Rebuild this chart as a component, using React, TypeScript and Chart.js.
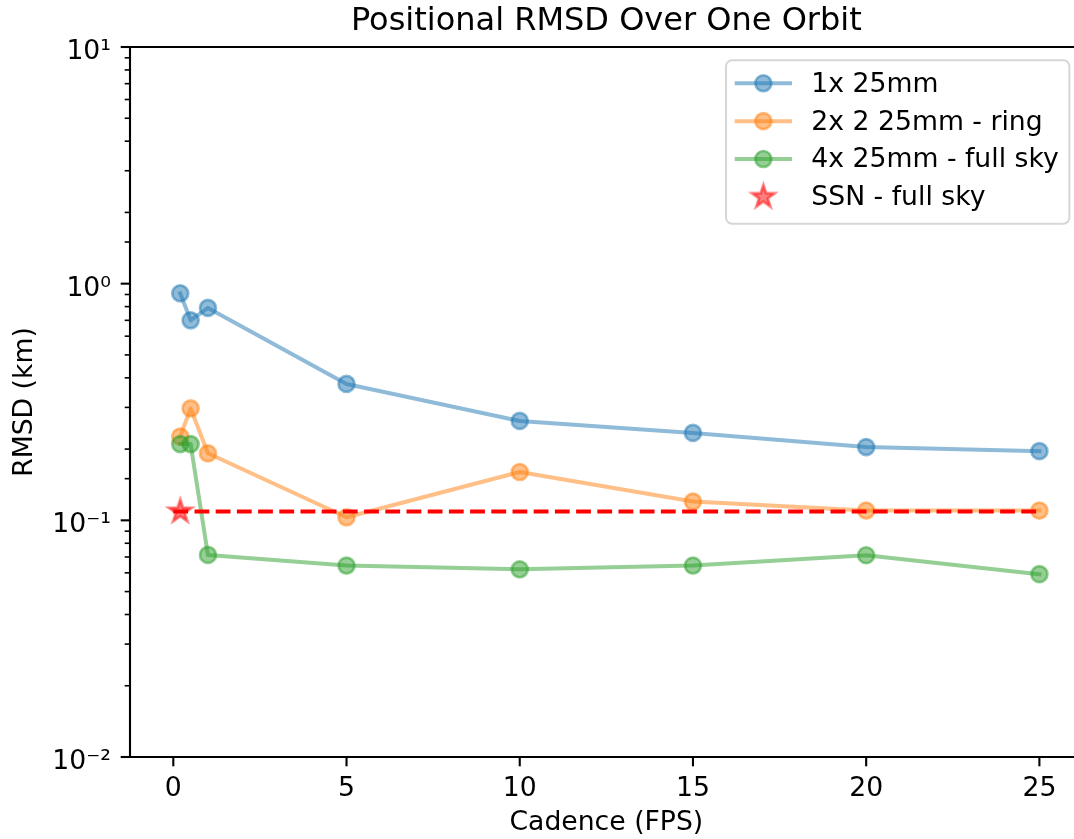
import React, { useEffect, useRef } from 'react';
import { Chart, registerables } from 'chart.js';

Chart.register(...registerables);

// ---------- data ----------
const cadence = [0.2, 0.5, 1, 5, 10, 15, 20, 25];
const rmsd1x25mm = [0.91, 0.70, 0.79, 0.377, 0.263, 0.234, 0.204, 0.196];
const rmsd2x225mmRing = [0.226, 0.297, 0.192, 0.103, 0.160, 0.120, 0.110, 0.110];
const rmsd4x25mmFullSky = [0.210, 0.210, 0.0714, 0.0644, 0.0621, 0.0644, 0.0712, 0.0592];
const ssnCadence = [0.2];
const ssnRmsd = [0.109];
const ssnLineCadence = [0, 25];
const ssnLineRmsd = [0.109, 0.109];

const seriesLabels = ['1x 25mm', '2x 2 25mm - ring', '4x 25mm - full sky', 'SSN - full sky'];
const xTickValues = [0, 5, 10, 15, 20, 25];
const yMajorTickValues = [0.01, 0.1, 1, 10];
const yMajorTickLabels = ['10⁻²', '10⁻¹', '10⁰', '10¹'];

const chartTitle = 'Positional RMSD Over One Orbit';
const xTitle = 'Cadence (FPS)';
const yTitle = 'RMSD (km)';

// full x-axis range of the figure, and the part visible inside the picture
const X_AXIS_MIN = -1.25;
const X_AXIS_MAX = 26.25;
const X_VISIBLE_MAX = 25.97;

// ---------- styles ----------
const FS = 26.67;
const FONT = "'DejaVu Sans', sans-serif";
const BLUE = 'rgba(31,119,180,0.5)';
const ORANGE = 'rgba(255,127,14,0.5)';
const GREEN = 'rgba(44,160,44,0.5)';
const STAR_RED = 'rgba(255,0,0,0.5)';

function makeStar(R: number, fill: string, stroke: string, lw: number) {
  const size = Math.ceil(2 * R + lw + 6);
  const c = document.createElement('canvas');
  c.width = size;
  c.height = size;
  const g = c.getContext('2d')!;
  const cx = size / 2;
  const cy = size / 2;
  g.beginPath();
  for (let k = 0; k < 10; k++) {
    const r = k % 2 === 0 ? R : R * 0.381966;
    const a = -Math.PI / 2 + (k * Math.PI) / 5;
    const px = cx + r * Math.cos(a);
    const py = cy + r * Math.sin(a);
    if (k === 0) g.moveTo(px, py);
    else g.lineTo(px, py);
  }
  g.closePath();
  g.fillStyle = fill;
  g.fill();
  g.lineWidth = lw;
  g.strokeStyle = stroke;
  g.stroke();
  return c;
}

// chart title and x-axis title, centred over the full axes range
const titlePlugin = {
  id: 'mplTitles',
  afterDraw(chart: any) {
    const { ctx, height } = chart;
    const xs = chart.scales.x;
    const cx = xs.getPixelForValue((X_AXIS_MIN + X_AXIS_MAX) / 2);
    ctx.save();
    ctx.fillStyle = '#000';
    ctx.textAlign = 'center';
    ctx.textBaseline = 'middle';
    ctx.font = `32px ${FONT}`;
    ctx.fillText(chartTitle, cx, 21.2);
    ctx.font = `${FS}px ${FONT}`;
    ctx.fillText(xTitle, cx, height - 0.6 * FS);
    ctx.restore();
  },
};

const framePlugin = {
  id: 'mplFrame',
  afterDatasetsDraw(chart: any) {
    const { ctx, chartArea, width } = chart;
    const { left, top, bottom } = chartArea;
    const xs = chart.scales.x;
    const ys = chart.scales.y;
    const axRight = Math.max(xs.getPixelForValue(X_AXIS_MAX), width + 2);
    ctx.save();
    ctx.strokeStyle = '#000';
    ctx.lineWidth = 2.1;
    ctx.lineCap = 'butt';
    ctx.beginPath();
    ctx.moveTo(axRight, top);
    ctx.lineTo(left, top);
    ctx.lineTo(left, bottom);
    ctx.lineTo(axRight, bottom);
    ctx.stroke();
    xs.ticks.forEach((t: any) => {
      const px = xs.getPixelForValue(t.value);
      ctx.beginPath();
      ctx.moveTo(px, bottom);
      ctx.lineTo(px, bottom + 9.3);
      ctx.stroke();
    });
    ys.ticks.forEach((t: any) => {
      const v = t.value;
      if (v < ys.min * 0.999 || v > ys.max * 1.001) return;
      const e = Math.log10(v);
      const major = Math.abs(e - Math.round(e)) < 1e-6;
      const py = ys.getPixelForValue(v);
      ctx.lineWidth = major ? 2.1 : 1.6;
      ctx.beginPath();
      ctx.moveTo(left, py);
      ctx.lineTo(left - (major ? 9.3 : 5.3), py);
      ctx.stroke();
    });
    ctx.restore();
  },
};

const legendPlugin = {
  id: 'mplLegend',
  afterDraw(chart: any) {
    const { ctx, chartArea } = chart;
    const xs = chart.scales.x;
    const items = chart.data.datasets.filter((d: any) => d.inLegend);
    ctx.save();
    ctx.font = `${FS}px ${FONT}`;
    let maxW = 0;
    items.forEach((d: any) => {
      maxW = Math.max(maxW, ctx.measureText(d.label).width);
    });
    const pad = 0.4 * FS;
    const handleLen = 2 * FS;
    const textPad = 0.8 * FS;
    const rowH = 0.92 * FS;
    const spacing = 0.5 * FS;
    const boxW = pad + handleLen + textPad + maxW + pad;
    const boxH = pad + items.length * rowH + (items.length - 1) * spacing + pad + 4;
    const right = xs.getPixelForValue(X_AXIS_MAX) - 0.5 * FS;
    const top = chartArea.top + 0.5 * FS;
    const left = right - boxW;
    const r = 6;
    ctx.beginPath();
    ctx.moveTo(left + r, top);
    ctx.lineTo(left + boxW - r, top);
    ctx.arcTo(left + boxW, top, left + boxW, top + r, r);
    ctx.lineTo(left + boxW, top + boxH - r);
    ctx.arcTo(left + boxW, top + boxH, left + boxW - r, top + boxH, r);
    ctx.lineTo(left + r, top + boxH);
    ctx.arcTo(left, top + boxH, left, top + boxH - r, r);
    ctx.lineTo(left, top + r);
    ctx.arcTo(left, top, left + r, top, r);
    ctx.closePath();
    ctx.fillStyle = 'rgba(255,255,255,0.8)';
    ctx.fill();
    ctx.lineWidth = 2;
    ctx.strokeStyle = 'rgba(204,204,204,0.8)';
    ctx.stroke();

    items.forEach((d: any, i: number) => {
      const cy = top + pad + rowH / 2 + i * (rowH + spacing);
      const hx0 = left + pad;
      const hx1 = hx0 + handleLen;
      const hc = (hx0 + hx1) / 2;
      if (d.showLine !== false) {
        ctx.beginPath();
        ctx.moveTo(hx0, cy);
        ctx.lineTo(hx1, cy);
        ctx.lineWidth = d.borderWidth;
        ctx.strokeStyle = d.borderColor;
        ctx.lineCap = 'square';
        ctx.stroke();
      }
      if (typeof d.pointStyle === 'object' && d.pointStyle) {
        const img = d.pointStyle;
        ctx.drawImage(img, hc - img.width / 2, cy - img.height / 2);
      } else {
        ctx.beginPath();
        ctx.arc(hc, cy, d.pointRadius, 0, Math.PI * 2);
        ctx.fillStyle = d.pointBackgroundColor;
        ctx.fill();
        ctx.lineWidth = d.pointBorderWidth;
        ctx.strokeStyle = d.pointBorderColor;
        ctx.stroke();
      }
      ctx.fillStyle = '#000';
      ctx.textAlign = 'left';
      ctx.textBaseline = 'middle';
      ctx.fillText(d.label, hx1 + textPad, cy + 1.5);
    });
    ctx.restore();
  },
};

function lineSeries(label: string, ys: number[], color: string, order: number) {
  return {
    label,
    data: cadence.map((x, i) => ({ x, y: ys[i] })),
    borderColor: color,
    backgroundColor: color,
    pointBackgroundColor: color,
    pointBorderColor: color,
    pointRadius: 8,
    pointHoverRadius: 8,
    pointBorderWidth: 2.7,
    borderWidth: 4,
    borderJoinStyle: 'round',
    borderCapStyle: 'square',
    tension: 0,
    showLine: true,
    order,
    inLegend: true,
  };
}

export default function App() {
  const ref = useRef<HTMLCanvasElement>(null);

  useEffect(() => {
    const canvas = ref.current!;
    Chart.defaults.font.family = FONT;
    Chart.defaults.color = '#000';
    const star = makeStar(12, STAR_RED, STAR_RED, 2.7);

    const tickFont = { family: FONT, size: FS };

    const chart = new Chart(canvas, {
      type: 'line',
      data: {
        datasets: [
          lineSeries(seriesLabels[0], rmsd1x25mm, BLUE, 5),
          lineSeries(seriesLabels[1], rmsd2x225mmRing, ORANGE, 4),
          lineSeries(seriesLabels[2], rmsd4x25mmFullSky, GREEN, 3),
          {
            label: seriesLabels[3],
            data: ssnCadence.map((x, i) => ({ x, y: ssnRmsd[i] })),
            showLine: false,
            pointStyle: star,
            pointRadius: 12,
            borderColor: STAR_RED,
            backgroundColor: STAR_RED,
            order: 2,
            inLegend: true,
          } as any,
          {
            label: '',
            data: ssnLineCadence.map((x, i) => ({ x, y: ssnLineRmsd[i] })),
            borderColor: '#ff0000',
            borderWidth: 4,
            borderDash: [14.8, 6.4],
            borderCapStyle: 'butt',
            pointRadius: 0,
            pointHoverRadius: 0,
            order: 1,
            inLegend: false,
          } as any,
        ] as any,
      },
      options: {
        responsive: false,
        animation: false,
        devicePixelRatio: 1,
        events: [],
        layout: { autoPadding: false, padding: { left: 0, right: 1, top: 47, bottom: 0 } },
        plugins: {
          legend: { display: false },
          tooltip: { enabled: false },
          title: { display: false },
        },
        scales: {
          x: {
            type: 'linear',
            min: X_AXIS_MIN,
            max: X_VISIBLE_MAX,
            grid: { display: false, drawTicks: false },
            border: { display: false },
            afterBuildTicks: (s: any) => {
              s.ticks = xTickValues.map((v) => ({ value: v }));
            },
            afterFit: (s: any) => {
              s.height = 82;
              s.paddingLeft = 0;
              s.paddingRight = 0;
            },
            ticks: {
              autoSkip: false,
              maxRotation: 0,
              padding: 16,
              color: '#000',
              font: tickFont,
            },
            title: { display: false, text: xTitle },
          },
          y: {
            type: 'logarithmic',
            min: 0.01,
            max: 10,
            grid: { display: false, drawTicks: false },
            border: { display: false },
            afterFit: (s: any) => {
              s.width = 130;
              s.paddingTop = 0;
              s.paddingBottom = 0;
            },
            ticks: {
              autoSkip: false,
              padding: 19,
              labelOffset: 5,
              color: '#000',
              font: tickFont,
              callback: (v: any) => {
                const val = Number(v);
                const i = yMajorTickValues.findIndex((m) => Math.abs(m - val) / m < 1e-6);
                return i >= 0 ? yMajorTickLabels[i] : '';
              },
            },
            title: {
              display: true,
              text: yTitle,
              color: '#000',
              font: tickFont,
              padding: { top: 9, bottom: 0 },
            },
          },
        },
      } as any,
      plugins: [framePlugin, legendPlugin, titlePlugin],
    });

    return () => chart.destroy();
  }, []);

  return (
    <div
      style={{
        position: 'absolute',
        left: 0,
        top: 0,
        width: 1074,
        height: 839,
        overflow: 'hidden',
        background: '#fff',
      }}
    >
      <canvas ref={ref} width={1074} height={839} style={{ display: 'block', width: 1074, height: 839 }} />
    </div>
  );
}
